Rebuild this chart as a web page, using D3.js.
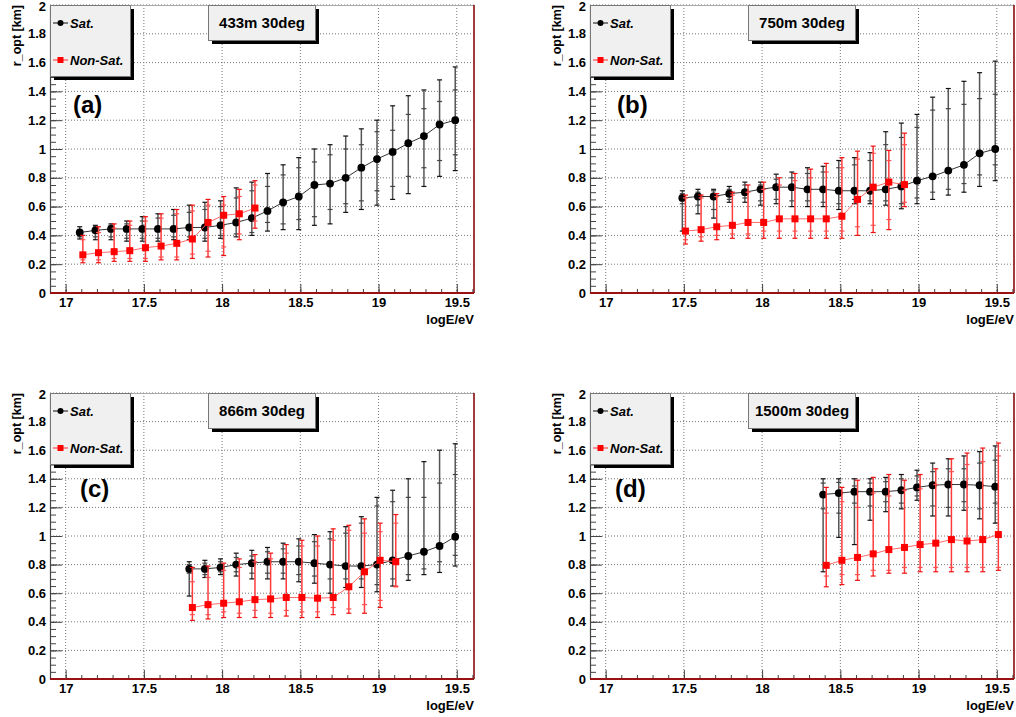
<!DOCTYPE html>
<html>
<head>
<meta charset="utf-8">
<script src="https://cdn.jsdelivr.net/npm/d3@7/dist/d3.min.js"></script>
<style>
  body { margin: 0; background: #fff; }
  text { font-family: "Liberation Sans", Arial, Helvetica, sans-serif; }
</style>
</head>
<body>
<svg id="chart" width="1016" height="717"></svg>
<script>
// ---------------- data ----------------
const panelTitles = ["433m 30deg", "750m 30deg", "866m 30deg", "1500m 30deg"];
const panelTags = ["(a)", "(b)", "(c)", "(d)"];
const legendLabels = ["Sat.", "Non-Sat."];
const xTitle = "logE/eV";
const yTitle = "r_opt [km]";

const xTickVals = [17, 17.5, 18, 18.5, 19, 19.5];
const xTickLabels = ["17", "17.5", "18", "18.5", "19", "19.5"];
const yTickVals = [0, 0.2, 0.4, 0.6, 0.8, 1, 1.2, 1.4, 1.6, 1.8, 2];
const yTickLabels = ["0", "0.2", "0.4", "0.6", "0.8", "1", "1.2", "1.4", "1.6", "1.8", "2"];

// (a) 433m
const aSatE = [17.1, 17.2, 17.3, 17.4, 17.5, 17.6, 17.7, 17.8, 17.9, 18.0, 18.1, 18.2, 18.3, 18.4, 18.5, 18.6, 18.7, 18.8, 18.9, 19.0, 19.1, 19.2, 19.3, 19.4, 19.5];
const aSat     = [0.42, 0.435, 0.445, 0.445, 0.445, 0.445, 0.445, 0.455, 0.455, 0.47, 0.49, 0.52, 0.57, 0.63, 0.67, 0.75, 0.76, 0.80, 0.87, 0.93, 0.98, 1.04, 1.09, 1.17, 1.20];
const aSatHi   = [0.46, 0.47, 0.48, 0.50, 0.53, 0.55, 0.58, 0.61, 0.63, 0.64, 0.73, 0.77, 0.83, 0.89, 0.94, 1.00, 1.03, 1.09, 1.14, 1.20, 1.30, 1.37, 1.41, 1.48, 1.57];
const aSatLo   = [0.375, 0.37, 0.37, 0.36, 0.36, 0.36, 0.37, 0.37, 0.36, 0.38, 0.39, 0.40, 0.43, 0.44, 0.44, 0.47, 0.48, 0.56, 0.58, 0.61, 0.65, 0.69, 0.74, 0.81, 0.85];
const aSatInHi = [0.44, 0.46, 0.47, 0.48, 0.50, 0.52, 0.54, 0.56, 0.58, 0.60, 0.66, 0.71, 0.74, 0.82, 0.87, 0.91, 0.96, 1.00, 1.03, 1.12, 1.13, 1.24, 1.28, 1.33, 1.41];
const aSatInLo = [0.39, 0.39, 0.39, 0.38, 0.38, 0.38, 0.39, 0.39, 0.38, 0.40, 0.41, 0.42, 0.49, 0.48, 0.51, 0.53, 0.58, 0.62, 0.64, 0.71, 0.74, 0.81, 0.87, 0.92, 0.96];
const aNonE = [17.1, 17.2, 17.3, 17.4, 17.5, 17.6, 17.7, 17.8, 17.9, 18.0, 18.1, 18.2];
const aNon     = [0.265, 0.28, 0.287, 0.294, 0.315, 0.326, 0.345, 0.375, 0.49, 0.54, 0.55, 0.59];
const aNonHi   = [0.40, 0.46, 0.48, 0.50, 0.53, 0.55, 0.58, 0.61, 0.65, 0.67, 0.72, 0.78];
const aNonLo   = [0.21, 0.21, 0.22, 0.22, 0.22, 0.23, 0.23, 0.24, 0.25, 0.26, 0.37, 0.45];
const aNonInHi = [0.37, 0.42, 0.45, 0.47, 0.50, 0.52, 0.55, 0.57, 0.61, 0.61, 0.67, 0.75];
const aNonInLo = [0.23, 0.23, 0.24, 0.24, 0.24, 0.25, 0.25, 0.27, 0.29, 0.32, 0.41, 0.50];

// (b) 750m
const bSatE = [17.5, 17.6, 17.7, 17.8, 17.9, 18.0, 18.1, 18.2, 18.3, 18.4, 18.5, 18.6, 18.7, 18.8, 18.9, 19.0, 19.1, 19.2, 19.3, 19.4, 19.5];
const bSat     = [0.66, 0.67, 0.67, 0.69, 0.70, 0.72, 0.735, 0.735, 0.72, 0.72, 0.71, 0.71, 0.71, 0.72, 0.74, 0.78, 0.81, 0.85, 0.89, 0.97, 1.00];
const bSatHi   = [0.71, 0.72, 0.72, 0.74, 0.77, 0.77, 0.825, 0.84, 0.87, 0.88, 0.92, 0.94, 0.975, 1.12, 1.18, 1.24, 1.36, 1.42, 1.47, 1.53, 1.61];
const bSatLo   = [0.43, 0.55, 0.52, 0.63, 0.63, 0.61, 0.62, 0.60, 0.60, 0.60, 0.58, 0.62, 0.62, 0.61, 0.585, 0.62, 0.65, 0.68, 0.70, 0.74, 0.78];
const bSatInHi = [0.69, 0.70, 0.71, 0.72, 0.75, 0.75, 0.79, 0.80, 0.83, 0.84, 0.87, 0.89, 0.92, 1.03, 1.08, 1.15, 1.27, 1.28, 1.31, 1.35, 1.38];
const bSatInLo = [0.62, 0.61, 0.58, 0.65, 0.66, 0.64, 0.65, 0.64, 0.64, 0.63, 0.62, 0.65, 0.64, 0.64, 0.62, 0.66, 0.70, 0.72, 0.76, 0.82, 0.89];
const bNonE = [17.5, 17.6, 17.7, 17.8, 17.9, 18.0, 18.1, 18.2, 18.3, 18.4, 18.5, 18.6, 18.7, 18.8, 18.9];
const bNon     = [0.43, 0.44, 0.46, 0.47, 0.49, 0.49, 0.515, 0.515, 0.515, 0.515, 0.533, 0.65, 0.735, 0.77, 0.753];
const bNonHi   = [0.68, 0.68, 0.69, 0.70, 0.75, 0.77, 0.80, 0.83, 0.86, 0.90, 0.94, 0.985, 1.02, 0.99, 1.11];
const bNonLo   = [0.34, 0.36, 0.37, 0.38, 0.38, 0.38, 0.38, 0.38, 0.38, 0.38, 0.38, 0.40, 0.42, 0.44, 0.60];
const bNonInHi = [0.66, 0.66, 0.67, 0.68, 0.70, 0.72, 0.75, 0.78, 0.80, 0.84, 0.87, 0.93, 0.97, 0.92, 1.03];
const bNonInLo = [0.37, 0.39, 0.40, 0.41, 0.41, 0.43, 0.43, 0.43, 0.43, 0.43, 0.43, 0.46, 0.47, 0.51, 0.63];

// (c) 866m
const cSatE = [17.8, 17.9, 18.0, 18.1, 18.2, 18.3, 18.4, 18.5, 18.6, 18.7, 18.8, 18.9, 19.0, 19.1, 19.2, 19.3, 19.4, 19.5];
const cSat     = [0.77, 0.77, 0.78, 0.80, 0.81, 0.82, 0.82, 0.82, 0.81, 0.80, 0.79, 0.79, 0.80, 0.83, 0.86, 0.89, 0.93, 0.995];
const cSatHi   = [0.82, 0.83, 0.84, 0.88, 0.90, 0.92, 0.95, 0.98, 1.01, 1.03, 1.065, 1.135, 1.27, 1.32, 1.40, 1.52, 1.60, 1.645];
const cSatLo   = [0.58, 0.71, 0.73, 0.72, 0.70, 0.70, 0.70, 0.68, 0.67, 0.60, 0.64, 0.64, 0.61, 0.65, 0.69, 0.73, 0.745, 0.79];
const cSatInHi = [0.80, 0.81, 0.82, 0.85, 0.86, 0.89, 0.91, 0.93, 0.96, 0.98, 1.02, 1.09, 1.21, 1.24, 1.27, 1.27, 1.37, 1.43];
const cSatInLo = [0.74, 0.73, 0.75, 0.75, 0.74, 0.74, 0.74, 0.73, 0.72, 0.70, 0.70, 0.70, 0.66, 0.70, 0.73, 0.77, 0.82, 0.865];
const cNonE = [17.8, 17.9, 18.0, 18.1, 18.2, 18.3, 18.4, 18.5, 18.6, 18.7, 18.8, 18.9, 19.0, 19.1];
const cNon     = [0.50, 0.52, 0.53, 0.54, 0.555, 0.56, 0.57, 0.57, 0.565, 0.57, 0.645, 0.75, 0.83, 0.82];
const cNonHi   = [0.78, 0.79, 0.81, 0.84, 0.87, 0.88, 0.94, 0.97, 1.00, 1.05, 1.075, 1.12, 1.09, 1.15];
const cNonLo   = [0.41, 0.42, 0.43, 0.43, 0.43, 0.43, 0.44, 0.43, 0.43, 0.45, 0.46, 0.46, 0.50, 0.645];
const cNonInHi = [0.68, 0.71, 0.76, 0.78, 0.82, 0.84, 0.88, 0.93, 0.93, 0.97, 1.04, 1.02, 1.03, 1.09];
const cNonInLo = [0.45, 0.45, 0.47, 0.46, 0.48, 0.46, 0.48, 0.47, 0.47, 0.50, 0.49, 0.52, 0.55, 0.65];

// (d) 1500m
const dSatE = [18.4, 18.5, 18.6, 18.7, 18.8, 18.9, 19.0, 19.1, 19.2, 19.3, 19.4, 19.5];
const dSat     = [1.29, 1.30, 1.31, 1.31, 1.31, 1.32, 1.34, 1.355, 1.36, 1.36, 1.355, 1.345];
const dSatHi   = [1.40, 1.40, 1.40, 1.40, 1.41, 1.43, 1.46, 1.51, 1.54, 1.56, 1.59, 1.63];
const dSatLo   = [0.75, 0.99, 0.94, 1.11, 1.17, 1.19, 1.25, 1.14, 1.14, 1.18, 1.12, 1.09];
const dSatInHi = [1.37, 1.375, 1.35, 1.37, 1.38, 1.40, 1.42, 1.45, 1.47, 1.47, 1.51, 1.53];
const dSatInLo = [1.19, 1.16, 1.23, 1.21, 1.24, 1.23, 1.28, 1.21, 1.20, 1.24, 1.19, 1.23];
const dNonE = [18.4, 18.5, 18.6, 18.7, 18.8, 18.9, 19.0, 19.1, 19.2, 19.3, 19.4, 19.5];
const dNon     = [0.795, 0.83, 0.85, 0.875, 0.905, 0.92, 0.94, 0.95, 0.975, 0.965, 0.975, 1.01];
const dNonHi   = [1.34, 1.34, 1.39, 1.41, 1.43, 1.39, 1.43, 1.47, 1.54, 1.58, 1.615, 1.65];
const dNonLo   = [0.645, 0.66, 0.69, 0.72, 0.74, 0.74, 0.75, 0.75, 0.75, 0.75, 0.75, 0.76];
const dNonInHi = [1.16, 1.24, 1.20, 1.30, 1.28, 1.32, 1.33, 1.36, 1.45, 1.50, 1.52, 1.56];
const dNonInLo = [0.72, 0.73, 0.73, 0.76, 0.76, 0.78, 0.78, 0.78, 0.78, 0.78, 0.78, 0.78];

// ---------------- layout ----------------
const W = 424;
const panels = [
  { left: 50,  top: 5,   h: 288, tag: [23, 108] },
  { left: 590, top: 5,   h: 288, tag: [27, 108] },
  { left: 50,  top: 393, h: 286, tag: [30, 104] },
  { left: 590, top: 393, h: 286, tag: [25, 104] }
];
const data = [
  { sat: [aSatE, aSat, aSatHi, aSatLo, aSatInHi, aSatInLo], non: [aNonE, aNon, aNonHi, aNonLo, aNonInHi, aNonInLo] },
  { sat: [bSatE, bSat, bSatHi, bSatLo, bSatInHi, bSatInLo], non: [bNonE, bNon, bNonHi, bNonLo, bNonInHi, bNonInLo] },
  { sat: [cSatE, cSat, cSatHi, cSatLo, cSatInHi, cSatInLo], non: [cNonE, cNon, cNonHi, cNonLo, cNonInHi, cNonInLo] },
  { sat: [dSatE, dSat, dSatHi, dSatLo, dSatInHi, dSatInLo], non: [dNonE, dNon, dNonHi, dNonLo, dNonInHi, dNonInLo] }
];

const svg = d3.select("#chart");

function toRows(arr) {
  return arr[0].map((e, i) => ({ e: e, v: arr[1][i], hi: arr[2][i], lo: arr[3][i], ih: arr[4][i], il: arr[5][i] }));
}

panels.forEach(function(p, i) {

  const g = svg.append("g").attr("transform", "translate(" + p.left + "," + p.top + ")");
  const x = d3.scaleLinear().domain([16.9, 19.61]).range([0, W]);
  const y = d3.scaleLinear().domain([0, 2]).range([p.h, 0]);

  // dotted grid
  g.append("g").selectAll("line").data(xTickVals).join("line")
    .attr("x1", d => x(d)).attr("x2", d => x(d))
    .attr("y1", 0).attr("y2", p.h)
    .attr("stroke", "#777").attr("stroke-dasharray", "1,2");
  g.append("g").selectAll("line").data(yTickVals.slice(1)).join("line")
    .attr("x1", 0).attr("x2", W)
    .attr("y1", d => y(d)).attr("y2", d => y(d))
    .attr("stroke", "#777").attr("stroke-dasharray", "1,2");

  // frame: top gray, right dark red
  g.append("line").attr("x1", 0).attr("x2", W).attr("y1", 0.5).attr("y2", 0.5)
    .attr("stroke", "#aaa").attr("stroke-width", 1);
  g.append("line").attr("x1", W).attr("x2", W).attr("y1", 0).attr("y2", p.h)
    .attr("stroke", "#8b0a0a").attr("stroke-width", 1.6);

  // y axis (ticks inward)
  const yMajor = d3.axisLeft(y).tickValues(yTickVals)
    .tickFormat((d, j) => yTickLabels[j]).tickSize(-12).tickSizeOuter(0).tickPadding(4);
  const yAx = g.append("g").call(yMajor);
  yAx.select(".domain").attr("stroke", "#444").attr("stroke-width", 1.2);
  yAx.selectAll(".tick line").attr("stroke", "#444");
  yAx.selectAll("text").style("font-size", "13px").style("font-weight", "bold").attr("fill", "#000");
  // keep the top label inside the window
  yAx.selectAll("text").filter(d => d === 2).attr("dy", "0.45em");
  const yMinor = d3.axisLeft(y).tickValues(y.ticks(40)).tickFormat("").tickSize(-6).tickSizeOuter(0);
  const yMin = g.append("g").call(yMinor);
  yMin.select(".domain").remove();
  yMin.selectAll(".tick line").attr("stroke", "#444");

  // x axis (ticks inward)
  const xMajor = d3.axisBottom(x).tickValues(xTickVals)
    .tickFormat((d, j) => xTickLabels[j]).tickSize(-9).tickSizeOuter(0).tickPadding(5);
  const xAx = g.append("g").attr("transform", "translate(0," + p.h + ")").call(xMajor);
  xAx.select(".domain").remove();
  xAx.selectAll(".tick line").attr("stroke", "#444");
  xAx.selectAll("text").style("font-size", "13px").style("font-weight", "bold").attr("fill", "#000");
  const xMinor = d3.axisBottom(x).tickValues(x.ticks(27)).tickFormat("").tickSize(-4).tickSizeOuter(0);
  const xMin = g.append("g").attr("transform", "translate(0," + p.h + ")").call(xMinor);
  xMin.select(".domain").remove();
  xMin.selectAll(".tick line").attr("stroke", "#444");

  // red baseline at r = 0
  g.append("line").attr("x1", 0).attr("x2", W).attr("y1", y(0)).attr("y2", y(0))
    .attr("stroke", "#9b1010").attr("stroke-width", 2);

  // axis titles
  g.append("text").attr("transform", "translate(-29,0) rotate(-90)")
    .attr("text-anchor", "end").style("font-size", "12.5px").style("font-weight", "bold")
    .text(yTitle);
  g.append("text").attr("x", W).attr("y", p.h + 31)
    .attr("text-anchor", "end").style("font-size", "13px").style("font-weight", "bold")
    .text(xTitle);

  // series
  function drawSeries(rows, shift, col) {
    const s = g.append("g");
    const line = d3.line().x(d => x(d.e + shift)).y(d => y(d.v));
    s.append("path").datum(rows).attr("d", line)
      .attr("fill", "none").attr("stroke", col.line).attr("stroke-width", 1);
    const bars = s.selectAll("g.bar").data(rows).join("g").attr("class", "bar");
    bars.append("line")
      .attr("x1", d => x(d.e + shift)).attr("x2", d => x(d.e + shift))
      .attr("y1", d => y(d.hi)).attr("y2", d => y(d.lo))
      .attr("stroke", col.bar).attr("stroke-width", 1.5);
    ["hi", "lo", "ih", "il"].forEach(function(k) {
      bars.append("line")
        .attr("x1", d => x(d.e + shift) - 2.5).attr("x2", d => x(d.e + shift) + 2.5)
        .attr("y1", d => y(d[k])).attr("y2", d => y(d[k]))
        .attr("stroke", k[0] === "i" ? col.inner : col.cap).attr("stroke-width", 1.2);
    });
    return s;
  }

  const satRows = toRows(data[i].sat);
  const nonRows = toRows(data[i].non);
  const sS = drawSeries(satRows, -0.01, { line: "#333", bar: "#555", cap: "#111", inner: "#444" });
  sS.selectAll("circle").data(satRows).join("circle")
    .attr("cx", d => x(d.e - 0.01)).attr("cy", d => y(d.v)).attr("r", 3.9).attr("fill", "#000");
  const nS = drawSeries(nonRows, 0.01, { line: "#ff6a6a", bar: "#ff3b3b", cap: "#ee1111", inner: "#ff5050" });
  nS.selectAll("rect.m").data(nonRows).join("rect").attr("class", "m")
    .attr("x", d => x(d.e + 0.01) - 3.5).attr("y", d => y(d.v) - 3.5)
    .attr("width", 7).attr("height", 7).attr("fill", "#ff0000");

  // legend box with shadow
  const lg = g.append("g");
  lg.append("rect").attr("x", 4).attr("y", 4).attr("width", 80).attr("height", 71).attr("fill", "#000");
  lg.append("rect").attr("x", 0.5).attr("y", 0.5).attr("width", 80).attr("height", 71)
    .attr("fill", "#f0f0f0").attr("stroke", "#777");
  const rowsY = [18, 55];
  legendLabels.forEach(function(lab, k) {
    const col = k === 0 ? "#000" : "#ff0000";
    lg.append("line").attr("x1", 3).attr("x2", 18).attr("y1", rowsY[k]).attr("y2", rowsY[k])
      .attr("stroke", k === 0 ? "#333" : "#ff4a4a").attr("stroke-width", 1.2);
    if (k === 0) {
      lg.append("circle").attr("cx", 10.5).attr("cy", rowsY[k]).attr("r", 3).attr("fill", col);
    } else {
      lg.append("rect").attr("x", 7.5).attr("y", rowsY[k] - 3).attr("width", 6).attr("height", 6).attr("fill", col);
    }
    lg.append("text").attr("x", 20).attr("y", rowsY[k] + 4.5)
      .style("font-size", "13px").style("font-weight", "bold").style("font-style", "italic")
      .text(lab);
  });

  // title box with shadow
  const tb = g.append("g").attr("transform", "translate(158,0)");
  tb.append("rect").attr("x", 4).attr("y", 4).attr("width", 107).attr("height", 35).attr("fill", "#000");
  tb.append("rect").attr("x", 0.5).attr("y", 0.5).attr("width", 107).attr("height", 35)
    .attr("fill", "#f0f0f0").attr("stroke", "#777");
  tb.append("text").attr("x", 54).attr("y", 23).attr("text-anchor", "middle")
    .style("font-size", "15px").style("font-weight", "bold").text(panelTitles[i]);

  // panel tag
  g.append("text").attr("x", p.tag[0]).attr("y", p.tag[1])
    .style("font-size", "24px").style("font-weight", "bold").text(panelTags[i]);
});
</script>
</body>
</html>
